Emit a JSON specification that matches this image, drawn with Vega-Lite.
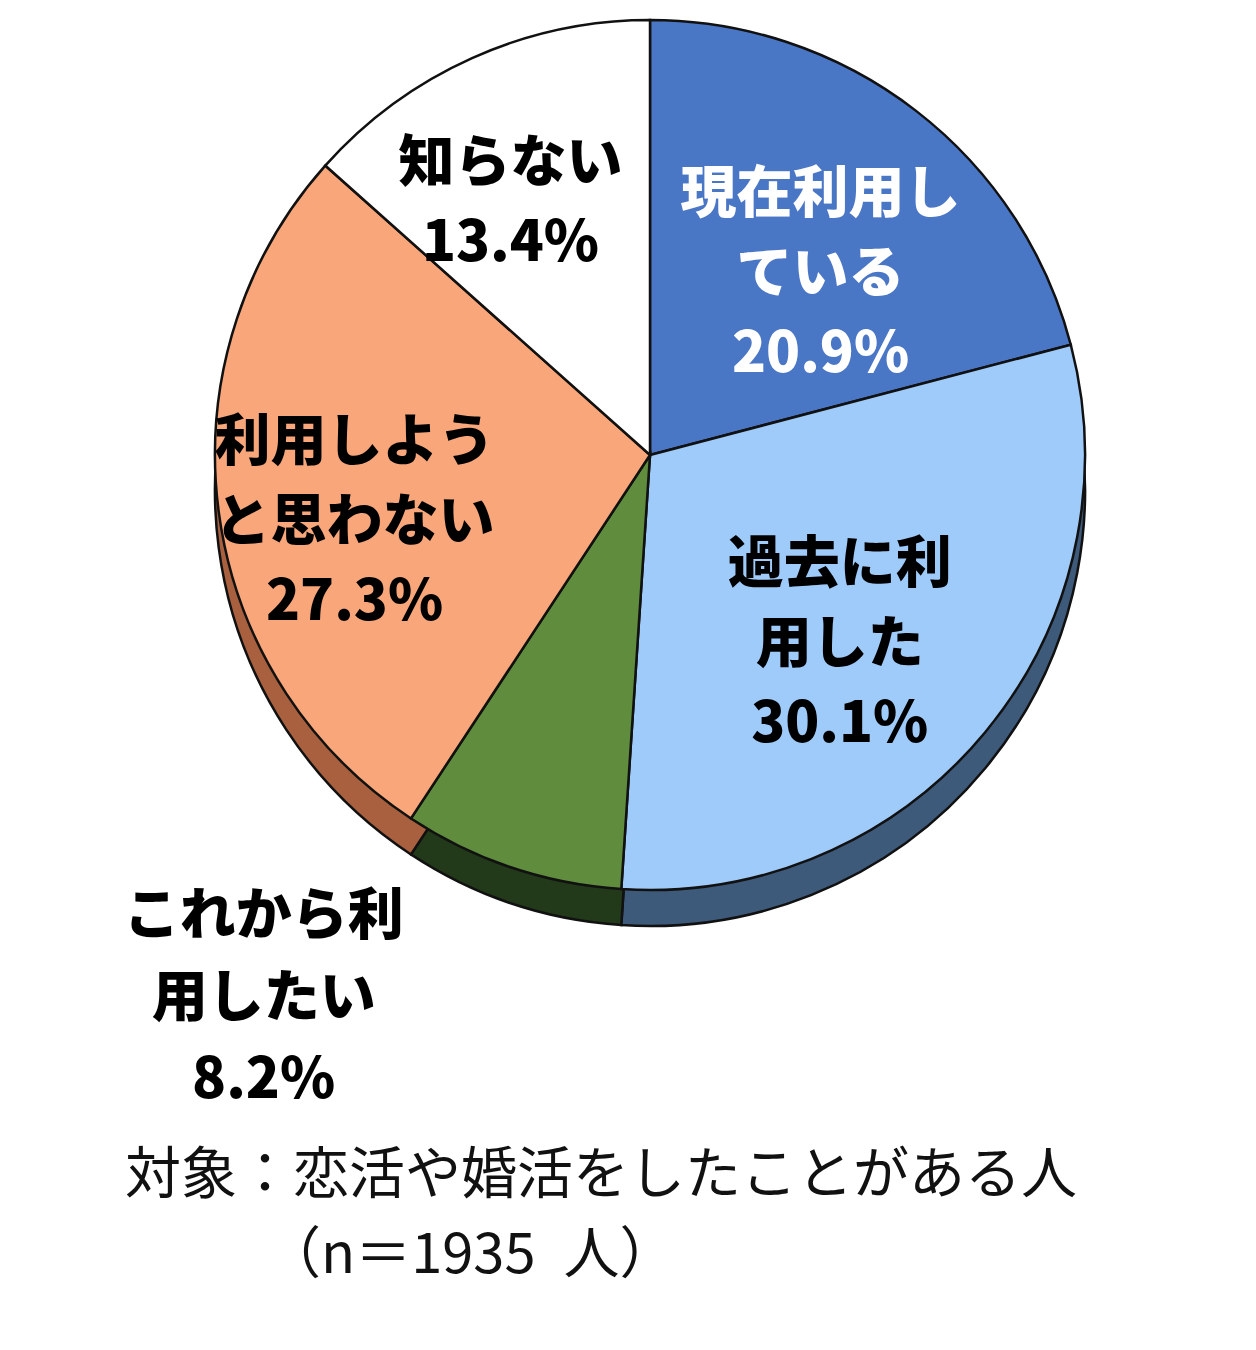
{
  "$schema": "https://vega.github.io/schema/vega-lite/v6.json",
  "autosize": {"type": "none"},
  "width": 1212,
  "height": 910,
  "padding": {"left": 44, "top": 0, "right": 0, "bottom": 440},
  "background": "white",
  "data": {
    "values": [
      {"idx": 1, "cat": "現在利用している", "label": "現在利用し\nている\n20.9%", "pct": 20.9},
      {"idx": 2, "cat": "過去に利用した", "label": "過去に利\n用した\n30.1%", "pct": 30.1},
      {"idx": 3, "cat": "これから利用したい", "label": "これから利\n用したい\n8.2%", "pct": 8.2},
      {"idx": 4, "cat": "利用しようと思わない", "label": "利用しよう\nと思わない\n27.3%", "pct": 27.3},
      {"idx": 5, "cat": "知らない", "label": "知らない\n13.4%", "pct": 13.4}
    ]
  },
  "title": {
    "text": ["対象：恋活や婚活をしたことがある人", "\u200b\u3000\u3000\u2002（n＝1935\u2002人）"],
    "orient": "bottom",
    "anchor": "start",
    "frame": "group",
    "align": "left",
    "dx": 81,
    "offset": 40,
    "font": "Noto Sans CJK JP",
    "fontSize": 56,
    "fontWeight": "normal",
    "color": "#111111",
    "lineHeight": 80
  },
  "encoding": {
    "theta": {"field": "pct", "type": "quantitative", "stack": true},
    "order": {"field": "idx", "type": "quantitative"}
  },
  "layer": [
    {
      "mark": {"type": "arc", "radius": 435, "yOffset": 36, "stroke": "#111111", "strokeWidth": 2.5},
      "encoding": {
        "color": {
          "field": "cat",
          "type": "nominal",
          "legend": null,
          "scale": {
            "domain": ["現在利用している", "過去に利用した", "これから利用したい", "利用しようと思わない", "知らない"],
            "range": ["#2F4C78", "#3E5A7A", "#22391A", "#A8603F", "#BBBBBB"]
          }
        }
      }
    },
    {
      "mark": {"type": "arc", "radius": 435, "stroke": "#111111", "strokeWidth": 2.5},
      "encoding": {
        "fill": {
          "field": "cat",
          "type": "nominal",
          "legend": null,
          "scale": {
            "domain": ["現在利用している", "過去に利用した", "これから利用したい", "利用しようと思わない", "知らない"],
            "range": ["#4A76C6", "#9FCBFA", "#5F8C3D", "#F9A77A", "#FFFFFF"]
          }
        }
      }
    },
    {
      "mark": {"type": "text", "radius": 248, "dx": 19, "dy": -64, "font": "Noto Sans CJK JP", "fontSize": 56, "fontWeight": 900, "lineBreak": "\n", "lineHeight": 80, "align": "center", "baseline": "middle", "color": "white"},
      "encoding": {
        "text": {"condition": {"test": "datum.cat === '現在利用している'", "field": "label"}, "value": ""}
      }
    },
    {
      "mark": {"type": "text", "radius": 272, "dx": -20, "dy": -63, "font": "Noto Sans CJK JP", "fontSize": 56, "fontWeight": 900, "lineBreak": "\n", "lineHeight": 80, "align": "center", "baseline": "middle", "color": "black"},
      "encoding": {
        "text": {"condition": {"test": "datum.cat === '過去に利用した'", "field": "label"}, "value": ""}
      }
    },
    {
      "mark": {"type": "text", "radius": 485, "dx": -232, "dy": 2, "font": "Noto Sans CJK JP", "fontSize": 56, "fontWeight": 900, "lineBreak": "\n", "lineHeight": 82, "align": "center", "baseline": "middle", "color": "black"},
      "encoding": {
        "text": {"condition": {"test": "datum.cat === 'これから利用したい'", "field": "label"}, "value": ""}
      }
    },
    {
      "mark": {"type": "text", "radius": 303, "dx": 5, "dy": -51, "font": "Noto Sans CJK JP", "fontSize": 56, "fontWeight": 900, "lineBreak": "\n", "lineHeight": 80, "align": "center", "baseline": "middle", "color": "black"},
      "encoding": {
        "text": {"condition": {"test": "datum.cat === '利用しようと思わない'", "field": "label"}, "value": ""}
      }
    },
    {
      "mark": {"type": "text", "radius": 280, "dx": -25, "dy": -35, "font": "Noto Sans CJK JP", "fontSize": 56, "fontWeight": 900, "lineBreak": "\n", "lineHeight": 80, "align": "center", "baseline": "middle", "color": "black"},
      "encoding": {
        "text": {"condition": {"test": "datum.cat === '知らない'", "field": "label"}, "value": ""}
      }
    }
  ],
  "resolve": {"scale": {"color": "independent"}},
  "config": {"view": {"stroke": null}}
}
